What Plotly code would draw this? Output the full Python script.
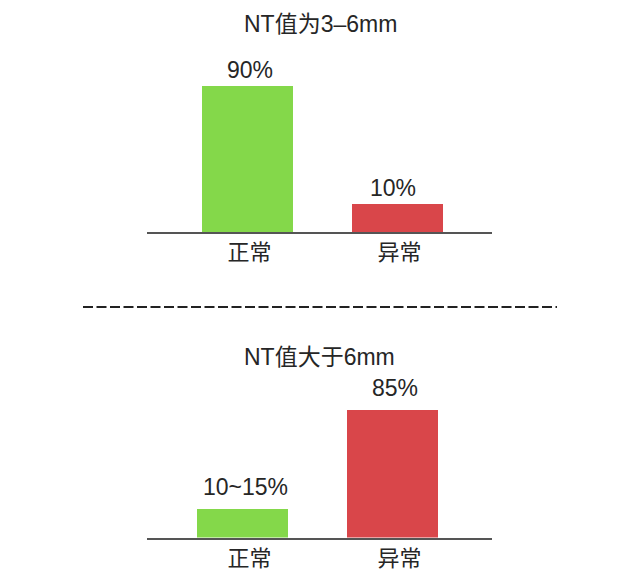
import plotly.graph_objects as go

# ---- data ----
categories = ["正常", "异常"]
top_title = "NT值为3–6mm"
top_values = [90, 10]
top_labels = ["90%", "10%"]
bottom_title = "NT值大于6mm"
bottom_values = [12.5, 85]
bottom_labels = ["10~15%", "85%"]
bar_colors = ["#84d84a", "#d9464a"]

FONT = "Liberation Sans, Arial, Noto Sans CJK SC, sans-serif"
TXT = "#262626"
TOP_BASE = -9
BOT_BASE = -8.4

fig = go.Figure()

BW = 0.607
fig.add_trace(go.Bar(x=categories, y=[v - TOP_BASE for v in top_values], base=TOP_BASE,
                     width=BW, offset=-0.317,
                     marker=dict(color=bar_colors, line=dict(width=0)),
                     xaxis="x", yaxis="y", hoverinfo="skip", showlegend=False))
fig.add_trace(go.Bar(x=categories, y=[v - BOT_BASE for v in bottom_values], base=BOT_BASE,
                     width=BW, offset=-0.353,
                     marker=dict(color=bar_colors, line=dict(width=0)),
                     xaxis="x2", yaxis="y2", hoverinfo="skip", showlegend=False))

xcommon = dict(type="category", range=[-0.683, 1.617], showgrid=False, zeroline=False,
               showline=True, linecolor="#555555", linewidth=2,
               ticks="", ticklen=0,
               tickfont=dict(family=FONT, size=22, color=TXT), fixedrange=True)
ycommon = dict(visible=False, showgrid=False, zeroline=False, fixedrange=True)

fig.update_layout(
    width=640, height=579,
    margin=dict(l=0, r=0, t=0, b=0),
    paper_bgcolor="white", plot_bgcolor="white",
    bargap=0,
    xaxis=dict(domain=[147/640, 492/640], anchor="y", **xcommon),
    yaxis=dict(domain=[(579-232)/579, (579-40)/579], range=[TOP_BASE, 121.2], **ycommon),
    xaxis2=dict(domain=[147/640, 492/640], anchor="y2", **xcommon),
    yaxis2=dict(domain=[(579-537.5)/579, (579-340)/579], range=[BOT_BASE, 136.2], **ycommon),
)

ann = []
# titles
ann.append(dict(text=top_title, x=320/640, y=(579-24)/579, xref="paper", yref="paper",
                xanchor="center", yanchor="middle",
                showarrow=False, font=dict(family=FONT, size=23, color=TXT)))
ann.append(dict(text=bottom_title, x=319/640, y=(579-357)/579, xref="paper", yref="paper",
                xanchor="center", yanchor="middle",
                showarrow=False, font=dict(family=FONT, size=23, color=TXT)))
# value labels
top_shift = [1, -6]
for c, v, t, s in zip(categories, top_values, top_labels, top_shift):
    ann.append(dict(text=t, x=c, y=v, xref="x", yref="y", yanchor="bottom", yshift=1, xshift=s,
                    showarrow=False, font=dict(family=FONT, size=23, color=TXT)))
bot_shift = [-4, -4]
for c, v, t, s in zip(categories, bottom_values, bottom_labels, bot_shift):
    ann.append(dict(text=t, x=c, y=v, xref="x2", yref="y2", yanchor="bottom", yshift=7, xshift=s,
                    showarrow=False, font=dict(family=FONT, size=23, color=TXT)))
fig.update_layout(annotations=ann)

# dashed separator
fig.add_shape(type="line", xref="paper", yref="paper",
              x0=83/640, x1=557/640, y0=(579-307)/579, y1=(579-307)/579,
              line=dict(color="#222222", width=2, dash="10px,3.5px"))

fig.write_html("out.html", config={"displayModeBar": False},
               post_script="document.body.style.margin='0';document.body.style.overflow='hidden';")
